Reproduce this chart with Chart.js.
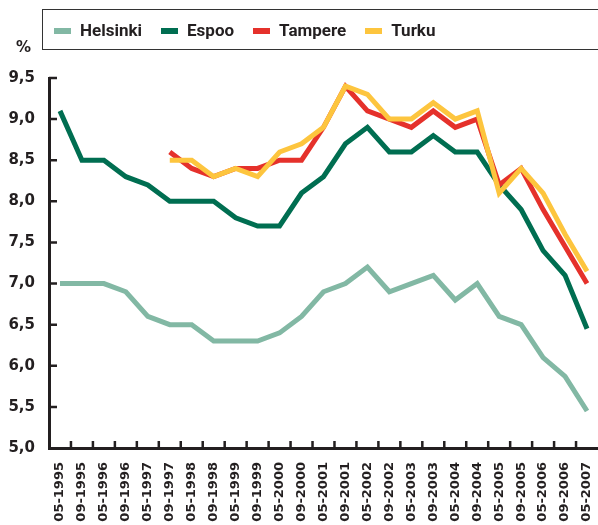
<!DOCTYPE html>
<html>
<head>
<meta charset="utf-8">
<script src="https://cdn.jsdelivr.net/npm/chart.js@4.4.0/dist/chart.umd.min.js"></script>
<style>
  html, body { margin: 0; padding: 0; background: #fff; overflow: hidden; }
  #wrap { position: relative; width: 598px; height: 525px; }
  #chart { position: absolute; left: 0; top: 0; }
  #legend {
    position: absolute; left: 42px; top: 9px; width: 620px; height: 41px;
    box-sizing: border-box; border: 1.5px solid #333; padding-left: 11px;
    display: flex; align-items: center;
    font: bold 17px Roboto, sans-serif; color: #231f20;
  }
  #legend .item { display: flex; align-items: center; margin-right: 19px; }
  #legend .swatch { width: 17px; height: 6px; margin-right: 9px; margin-top: 2px; }
  #unit {
    position: absolute; left: 16px; top: 38px;
    font: bold 15px 'DejaVu Sans', sans-serif; color: #231f20;
  }
</style>
</head>
<body>
<div id="wrap">
  <canvas id="chart" width="598" height="525"></canvas>
  <div id="legend"></div>
  <div id="unit">%</div>
</div>
<script>
// ---- data ----
const labels = [
  '05-1995', '09-1995', '05-1996', '09-1996', '05-1997', '09-1997', '05-1998',
  '09-1998', '05-1999', '09-1999', '05-2000', '09-2000', '05-2001', '09-2001',
  '05-2002', '09-2002', '05-2003', '09-2003', '05-2004', '09-2004', '05-2005',
  '09-2005', '05-2006', '09-2006', '05-2007'
];
const helsinki = [7.0, 7.0, 7.0, 6.9, 6.6, 6.5, 6.5, 6.3, 6.3, 6.3, 6.4, 6.6, 6.9,
  7.0, 7.2, 6.9, 7.0, 7.1, 6.8, 7.0, 6.6, 6.5, 6.1, 5.87, 5.45];
const espoo = [9.1, 8.5, 8.5, 8.3, 8.2, 8.0, 8.0, 8.0, 7.8, 7.7, 7.7, 8.1, 8.3,
  8.7, 8.9, 8.6, 8.6, 8.8, 8.6, 8.6, 8.2, 7.9, 7.4, 7.1, 6.45];
const tampere = [null, null, null, null, null, 8.6, 8.4, 8.3, 8.4, 8.4, 8.5, 8.5, 8.9,
  9.4, 9.1, 9.0, 8.9, 9.1, 8.9, 9.0, 8.2, 8.4, 7.9, 7.45, 7.0];
const turku = [null, null, null, null, null, 8.5, 8.5, 8.3, 8.4, 8.3, 8.6, 8.7, 8.9,
  9.4, 9.3, 9.0, 9.0, 9.2, 9.0, 9.1, 8.1, 8.4, 8.1, 7.6, 7.15];
const yTicks = [5.0, 5.5, 6.0, 6.5, 7.0, 7.5, 8.0, 8.5, 9.0, 9.5];

const series = [
  { label: 'Helsinki', data: helsinki, color: '#82b8a4', order: 4 },
  { label: 'Espoo', data: espoo, color: '#006e51', order: 3 },
  { label: 'Tampere', data: tampere, color: '#e5312b', order: 2 },
  { label: 'Turku', data: turku, color: '#fdc53e', order: 1 }
];

const ink = '#231f20';

// legend box
const legendEl = document.getElementById('legend');
series.forEach(s => {
  const item = document.createElement('div');
  item.className = 'item';
  item.innerHTML = `<span class="swatch" style="background:${s.color}"></span><span>${s.label}</span>`;
  legendEl.appendChild(item);
});

// short inward tick marks on both axes
const axisTicks = {
  id: 'axisTicks',
  afterDraw(chart) {
    const { ctx, chartArea, scales: { x, y } } = chart;
    ctx.save();
    ctx.strokeStyle = ink;
    ctx.lineWidth = 2.5;
    ctx.beginPath();
    yTicks.slice(1).forEach(v => {
      const py = y.getPixelForValue(v);
      ctx.moveTo(chartArea.left, py);
      ctx.lineTo(chartArea.left + 8, py);
    });
    for (let i = 0; i < labels.length - 1; i++) {
      const px = (x.getPixelForValue(i) + x.getPixelForValue(i + 1)) / 2;
      ctx.moveTo(px, chartArea.bottom);
      ctx.lineTo(px, chartArea.bottom - 7);
    }
    ctx.stroke();
    ctx.restore();
  }
};

new Chart(document.getElementById('chart'), {
  type: 'line',
  data: {
    labels,
    datasets: series.map(s => ({
      label: s.label,
      data: s.data,
      borderColor: s.color,
      backgroundColor: s.color,
      borderWidth: 5,
      pointRadius: 0,
      tension: 0,
      order: s.order
    }))
  },
  options: {
    responsive: false,
    animation: false,
    layout: { padding: { top: 78, left: 0, right: 0, bottom: 0 } },
    plugins: {
      legend: { display: false },
      tooltip: { enabled: false }
    },
    scales: {
      x: {
        offset: true,
        grid: { display: false, drawTicks: false, tickLength: 0 },
        border: { display: true, color: ink, width: 3 },
        ticks: {
          autoSkip: false,
          minRotation: 90,
          maxRotation: 90,
          padding: 14,
          color: ink,
          font: { family: "'DejaVu Sans', sans-serif", size: 13, weight: 'bold' }
        },
        afterFit(scale) {
          scale.height = 77;
          scale.paddingLeft = 0;
          scale.paddingRight = 0;
        }
      },
      y: {
        min: 5,
        max: 9.5,
        afterBuildTicks(scale) { scale.ticks = yTicks.map(v => ({ value: v })); },
        grid: { display: false, drawTicks: false, tickLength: 0 },
        border: { display: true, color: ink, width: 3 },
        ticks: {
          padding: 14,
          color: ink,
          font: { family: "'DejaVu Sans', sans-serif", size: 15, weight: 'bold' },
          callback: v => v.toFixed(1).replace('.', ',')
        },
        afterFit(scale) { scale.width = 49; }
      }
    }
  },
  plugins: [axisTicks]
});
</script>
</body>
</html>
